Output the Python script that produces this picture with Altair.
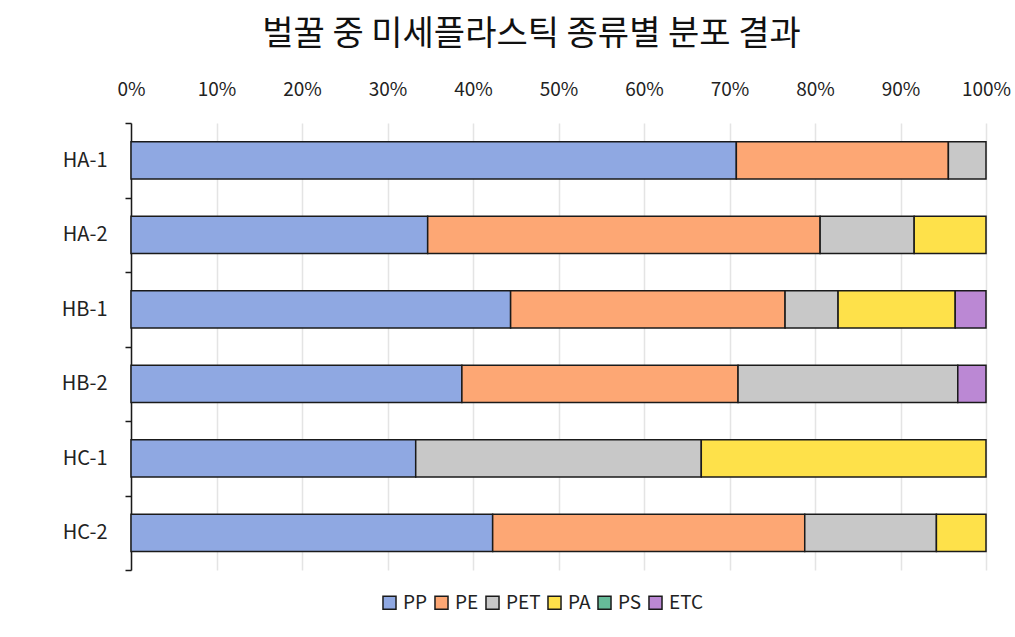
import altair as alt
import pandas as pd

samples = ["HA-1", "HA-2", "HB-1", "HB-2", "HC-1", "HC-2"]
types = ["PP", "PE", "PET", "PA", "PS", "ETC"]
colors = ["#8FA8E2", "#FDA774", "#C8C8C8", "#FEE14A", "#66BB99", "#BB88D4"]

pp = [70.8, 34.7, 44.4, 38.7, 33.3, 42.3]
pe = [24.8, 45.9, 32.1, 32.3, 0.0, 36.5]
pet = [4.4, 11.0, 6.2, 25.7, 33.4, 15.4]
pa = [0.0, 8.4, 13.7, 0.0, 33.3, 5.8]
ps = [0.0, 0.0, 0.0, 0.0, 0.0, 0.0]
etc = [0.0, 0.0, 3.6, 3.3, 0.0, 0.0]

x_ticks = [i / 10 for i in range(11)]

series = [pp, pe, pet, pa, ps, etc]
rows = []
for i, s in enumerate(samples):
    for j, t in enumerate(types):
        v = series[j][i]
        if v > 0:
            rows.append({"sample": s, "type": t, "order": j, "value": v / 100})
df = pd.DataFrame(rows)

FONT = "Noto Sans CJK KR"

bars = alt.Chart(df).mark_bar(
    height=alt.RelativeBandSize(0.5), stroke="#1a1a1a", strokeWidth=1.5
).encode(
    x=alt.X(
        "value:Q",
        stack="zero",
        title=None,
        scale=alt.Scale(domain=[0, 1], nice=False),
        axis=alt.Axis(
            orient="top", format=".0%", values=x_ticks, domain=False, ticks=False,
            labelFlush=False,
            labelPadding=24, labelFontSize=19, labelColor="#222222", labelFont=FONT,
            grid=True, gridColor="#e4e4e4", gridWidth=1.5,
        ),
    ),
    y=alt.Y(
        "sample:N",
        sort=samples,
        title=None,
        scale=alt.Scale(paddingInner=0, paddingOuter=0),
        axis=alt.Axis(
            tickBand="extent", domainColor="#1a1a1a", domainWidth=1.5,
            tickColor="#1a1a1a", tickWidth=1.5, tickSize=6,
            labelPadding=18, labelFontSize=20, labelColor="#222222", labelFont=FONT,
            grid=False,
        ),
    ),
    color=alt.Color(
        "type:N",
        scale=alt.Scale(domain=types, range=colors),
        legend=alt.Legend(
            title=None, orient="none", direction="horizontal", legendX=249, legendY=470,
            symbolType="square", symbolSize=170, symbolStrokeColor="#1a1a1a",
            symbolStrokeWidth=1.5, labelFontSize=19, labelFont=FONT, labelColor="#222222",
            columnPadding=3, labelOffset=4,
        ),
    ),
    order=alt.Order("order:Q"),
)

chart = bars.properties(
    width=855,
    height=447,
    title=alt.Title(
        "벌꿀 중 미세플라스틱 종류별 분포 결과", fontSize=34, font=FONT,
        fontWeight="normal", color="#111111", dx=-27, offset=28,
    ),
    autosize=alt.AutoSizeParams(type="none"),
    padding={"left": 131, "top": 123, "right": 29, "bottom": 67},
).configure_view(stroke=None)

chart.save("out.html", embed_options={"renderer": "svg", "actions": False})
